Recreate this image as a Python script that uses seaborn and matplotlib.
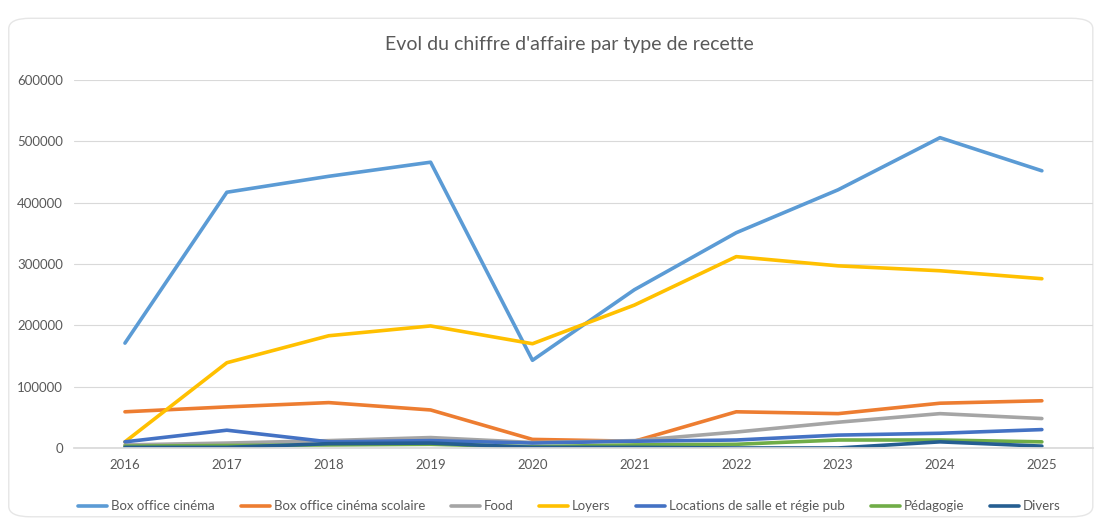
import matplotlib

matplotlib.use("Agg")
import matplotlib.pyplot as plt
import pandas as pd
import seaborn as sns
from matplotlib.patches import FancyBboxPatch

# --- données ---
annees = [2016, 2017, 2018, 2019, 2020, 2021, 2022, 2023, 2024, 2025]
box_office = [171000, 417000, 443000, 466000, 143000, 258000, 351000, 421000, 506000, 452000]
box_office_scolaire = [59000, 67000, 74000, 62000, 14000, 11000, 59000, 56000, 73000, 77000]
food = [5000, 8000, 12000, 17000, 9000, 12000, 26000, 42000, 56000, 48000]
loyers = [10000, 139000, 183000, 199000, 170000, 233000, 312000, 297000, 289000, 276000]
locations = [10000, 29000, 10000, 12000, 8000, 11000, 13000, 21000, 24000, 30000]
pedagogie = [3000, 4000, 5000, 6000, 2000, 5000, 6000, 13000, 13000, 10000]
divers = [1000, 1000, 7000, 8000, 1000, 1000, 0, 0, 10000, 3000]

series = {
    "Box office cinéma": box_office,
    "Box office cinéma scolaire": box_office_scolaire,
    "Food": food,
    "Loyers": loyers,
    "Locations de salle et régie pub": locations,
    "Pédagogie": pedagogie,
    "Divers": divers,
}
couleurs = ["#5B9BD5", "#ED7D31", "#A5A5A5", "#FFC000", "#4472C4", "#70AD47", "#255E91"]

rows = []
for nom, vals in series.items():
    for i, (a, v) in enumerate(zip(annees, vals)):
        rows.append({"idx": i, "annee": a, "type": nom, "ca": v})
df = pd.DataFrame(rows)

sns.set_theme(style="white")
plt.rcParams["font.family"] = ["Lato", "DejaVu Sans"]

fig = plt.figure(figsize=(10.95, 5.22), dpi=100)
cadre = FancyBboxPatch((0.008, 0.01), 0.99, 0.955, boxstyle="round,pad=0,rounding_size=0.02",
                       transform=fig.transFigure, facecolor="white",
                       edgecolor="#e6e6e6", linewidth=1.0, zorder=-10)
fig.patches.append(cadre)
ax = fig.add_axes([0.0676, 0.1418, 0.9304, 0.7049])
ax.set_facecolor("none")

sns.lineplot(data=df, x="idx", y="ca", hue="type", hue_order=list(series.keys()),
             palette=couleurs, linewidth=2.6, ax=ax, legend=True, sort=False)

ax.set_xlim(-0.5, len(annees) - 0.5)
ax.set_ylim(0, 600000)
ax.set_yticks(range(0, 600001, 100000))
ax.set_yticklabels([str(v) for v in range(0, 600001, 100000)])
ax.set_xticks(range(len(annees)))
ax.set_xticklabels([str(a) for a in annees])
ax.tick_params(axis="both", labelsize=9.5, colors="#595959", length=0, pad=8)
ax.grid(axis="y", color="#d9d9d9", linewidth=0.8)
ax.set_axisbelow(True)
for s in ["top", "right", "left"]:
    ax.spines[s].set_visible(False)
ax.spines["bottom"].set_color("#d9d9d9")
ax.set_xlabel("")
ax.set_ylabel("")

fig.text(0.52, 0.915, "Evol du chiffre d'affaire par type de recette", ha="center", va="center",
         fontsize=14, color="#595959")

handles, labels = ax.get_legend_handles_labels()
ax.legend(handles, labels, loc="center", bbox_to_anchor=(0.52, 0.03), bbox_transform=fig.transFigure,
          ncol=7, frameon=False, fontsize=9.5, handlelength=2.2, handletextpad=0.3, columnspacing=1.95,
          labelcolor="#595959")

fig.savefig("out.png", dpi=100)
